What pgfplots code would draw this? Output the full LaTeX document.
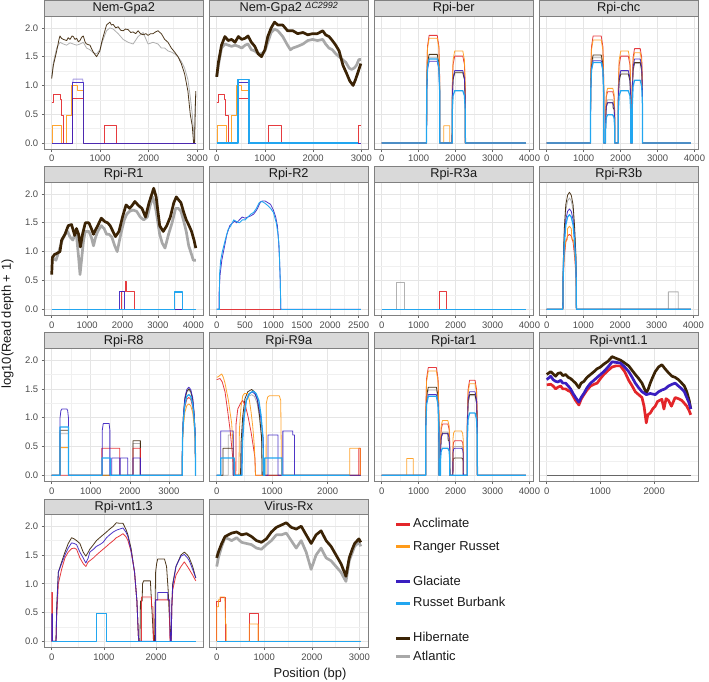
\documentclass[border=0pt]{standalone}
\usepackage{pgfplots}
\pgfplotsset{compat=1.18}
\usepackage{fontspec}
\setmainfont{Liberation Sans}
\definecolor{cAcc}{HTML}{E3262A}
\definecolor{cRR}{HTML}{FF9B1A}
\definecolor{cGla}{HTML}{3A1FC0}
\definecolor{cRB}{HTML}{22A6F0}
\definecolor{cHib}{HTML}{3B2305}
\definecolor{cAtl}{HTML}{A8A8A8}
\pgfplotsset{
  facet/.style={
    scale only axis, width=158.5bp, height=133bp, anchor=south west,
    ymin=-0.105, ymax=2.205,
    ytick={0,0.5,1,1.5,2}, minor y tick num=1, minor x tick num=1,
    grid=both,
    major grid style={draw=black!10, line width=0.6bp},
    minor grid style={draw=black!6, line width=0.4bp},
    axis line style={draw=black!50, line width=0.6bp},
    tick align=outside, tick pos=left,
    major tick length=2.75bp, minor tick length=0bp,
    every tick/.style={draw=black!60, line width=0.6bp},
    ticklabel style={font=\fontsize{9.5}{10}\selectfont, text=black!70},
    /pgf/number format/assume math mode=true,
    scaled x ticks=false, scaled y ticks=false,
    xticklabel style={/pgf/number format/fixed, /pgf/number format/1000 sep={}},
    yticklabel style={/pgf/number format/fixed, /pgf/number format/fixed zerofill, /pgf/number format/precision=1},
    every axis title/.style={at={(0.5,1)}, anchor=south, inner sep=0pt, outer sep=0pt,
      minimum width=158.5bp, minimum height=15.5bp, text height=9.3bp, text depth=2.2bp,
      fill=black!15, draw=black!50, line width=0.6bp, font=\fontsize{12.8}{13}\selectfont, text=black!90},
  },
  nolab/.style={yticklabels={}, ytick style={draw=none}},
  acc/.style={draw=cAcc, line width=0.8bp, draw opacity=0.9, line join=round},
  rr/.style={draw=cRR, line width=0.8bp, draw opacity=0.9, line join=round},
  gla/.style={draw=cGla, line width=0.8bp, draw opacity=0.9, line join=round},
  rb/.style={draw=cRB, line width=1.25bp, draw opacity=1, line join=round},
  hib/.style={draw=cHib, line width=0.8bp, draw opacity=0.9, line join=round},
  atl/.style={draw=cAtl, line width=0.8bp, draw opacity=0.9, line join=round},
  fat/.style={line width=2.7bp, draw opacity=1},
}
\begin{document}
\begin{tikzpicture}
\path[use as bounding box] (0,0) rectangle (709bp,682bp);

% ---------------- Row 1 ----------------
\begin{axis}[facet, at={(44.5bp,532.9bp)}, xmin=-148.5, xmax=3118.5, xtick={0,1000,2000,3000}, title={Nem-Gpa2}]
\addplot[atl] coordinates {(0,1.15)(34,1.4)(103,1.65)(171,1.75)(240,1.72)(308,1.7)(377,1.74)(445,1.72)(514,1.7)(582,1.72)(651,1.75)(719,1.65)(788,1.62)(856,1.57)(925,1.55)(993,1.62)(1062,1.8)(1130,1.95)(1199,2.0)(1267,1.98)(1370,1.9)(1473,1.8)(1575,1.75)(1678,1.72)(1781,1.85)(1884,1.92)(1986,1.72)(2089,1.75)(2192,1.72)(2260,1.65)(2329,1.65)(2397,1.6)(2466,1.58)(2534,1.55)(2603,1.5)(2671,1.42)(2740,1.3)(2808,1.1)(2856,0.8)(2897,0.5)(2925,0.2)(2945,0.05)(2959,0.7)(2970,0.85)};
\addplot[hib] coordinates {(0,1.12)(34,1.35)(103,1.6)(150,1.8)(171,1.86)(200,1.82)(240,1.8)(308,1.78)(340,1.83)(377,1.8)(420,1.86)(445,1.85)(480,1.8)(514,1.82)(550,1.76)(582,1.78)(620,1.84)(651,1.86)(690,1.75)(719,1.72)(788,1.7)(856,1.58)(925,1.5)(960,1.55)(993,1.6)(1030,1.75)(1062,1.85)(1130,2.05)(1199,2.1)(1230,2.05)(1267,2.06)(1320,2.0)(1370,2.02)(1420,1.96)(1473,1.95)(1520,1.98)(1575,1.97)(1630,1.92)(1678,1.93)(1730,1.9)(1781,1.95)(1830,1.9)(1884,1.88)(1940,1.9)(1986,1.87)(2040,1.9)(2089,1.9)(2140,1.93)(2192,1.95)(2230,1.92)(2260,1.9)(2329,1.8)(2397,1.75)(2466,1.65)(2534,1.58)(2603,1.5)(2671,1.38)(2740,1.2)(2808,0.9)(2856,0.5)(2897,0.3)(2925,0)(2945,0)(2959,0.6)(2970,0.9)};
\addplot[acc] coordinates {(0,0.7)(45,0.7)(45,0.85)(170,0.85)(170,0.75)(190,0.75)(190,0.48)(240,0.48)(240,0)(425,0)(425,0.78)(651,0.78)(651,0)(1082,0)(1082,0.3)(1336,0.3)(1336,0)(2970,0)};
\addplot[rr] coordinates {(0,0)(20,0)(20,0.3)(205,0.3)(205,0)(300,0)(300,0.48)(410,0.48)(410,1.0)(520,1.0)(520,0.91)(651,0.91)(651,0)(2970,0)};
\addplot[gla] coordinates {(0,0)(425,0)(425,1.05)(651,1.05)(651,0)(2970,0)};
\addplot[gla, draw opacity=0.45] coordinates {(435,1.05)(440,1.11)(640,1.11)(645,1.05)};
\end{axis}

\begin{axis}[facet, nolab, at={(209.5bp,532.9bp)}, xmin=-149.5, xmax=3139.5, xtick={0,1000,2000,3000},
  title={Nem-Gpa2\ \raisebox{0.45ex}{\fontsize{9}{9}\selectfont\itshape ΔC2992}}]
\addplot[atl, fat] coordinates {(0,1.15)(35,1.35)(100,1.65)(170,1.72)(240,1.7)(310,1.68)(380,1.7)(450,1.68)(520,1.65)(590,1.7)(650,1.72)(720,1.62)(790,1.6)(860,1.55)(930,1.55)(1000,1.6)(1060,1.75)(1130,1.92)(1200,1.98)(1270,1.95)(1370,1.85)(1470,1.7)(1530,1.62)(1580,1.65)(1680,1.68)(1790,1.72)(1890,1.78)(1990,1.8)(2090,1.78)(2200,1.8)(2260,1.72)(2330,1.65)(2400,1.62)(2470,1.55)(2540,1.5)(2610,1.45)(2680,1.4)(2750,1.3)(2800,1.28)(2850,1.3)(2900,1.35)(2950,1.45)(2990,1.45)};
\addplot[hib, fat] coordinates {(0,1.15)(35,1.4)(100,1.7)(170,1.85)(240,1.78)(310,1.8)(380,1.75)(450,1.85)(520,1.8)(590,1.82)(650,1.86)(720,1.75)(790,1.68)(860,1.55)(930,1.5)(1000,1.62)(1060,1.85)(1130,2.0)(1200,2.1)(1270,2.05)(1370,2.05)(1470,1.95)(1580,1.95)(1680,1.9)(1790,1.92)(1890,1.88)(1990,1.9)(2090,1.9)(2200,1.95)(2260,1.88)(2330,1.85)(2400,1.78)(2470,1.7)(2540,1.6)(2620,1.35)(2700,1.2)(2760,1.08)(2830,1.0)(2880,1.1)(2940,1.25)(2990,1.38)};
\addplot[acc] coordinates {(0,0.7)(45,0.7)(45,0.85)(170,0.85)(170,0.75)(190,0.75)(190,0.48)(240,0.48)(240,0)(425,0)(425,0.78)(651,0.78)(651,0)(1082,0)(1082,0.3)(1336,0.3)(1336,0)(2940,0)(2940,0.3)(2990,0.3)};
\addplot[rr] coordinates {(0,0)(20,0)(20,0.3)(205,0.3)(205,0)(300,0)(300,0.48)(410,0.48)(410,1.0)(520,1.0)(520,0.91)(651,0.91)(651,0)(2990,0)};
\addplot[gla] coordinates {(0,0)(425,0)(425,1.05)(655,1.05)(655,0)(2990,0)};
\addplot[rb] coordinates {(0,0)(440,0)(440,1.1)(670,1.1)(670,0)(2940,0)};
\end{axis}

\begin{axis}[facet, nolab, at={(374.5bp,532.9bp)}, xmin=-195, xmax=4095, xtick={0,1000,2000,3000,4000}, title={Rpi-ber}]
\addplot[atl] coordinates {(0,0)(1214,0)(1217,0.89)(1239,1.33)(1284,1.48)(1503,1.48)(1548,1.33)(1570,0.89)(1573,0)(1906,0)(1909,0.74)(1931,1.12)(1976,1.24)(2195,1.24)(2240,1.12)(2262,0.74)(2265,0)(3900,0)};
\addplot[hib] coordinates {(0,0)(1214,0)(1217,0.92)(1239,1.39)(1284,1.54)(1503,1.54)(1548,1.39)(1570,0.92)(1573,0)(1906,0)(1909,0.73)(1931,1.10)(1976,1.22)(2195,1.22)(2240,1.10)(2262,0.73)(2265,0)(3900,0)};
\addplot[acc] coordinates {(0,0)(1214,0)(1217,1.12)(1239,1.68)(1284,1.87)(1503,1.87)(1548,1.68)(1570,1.12)(1573,0)(1906,0)(1909,0.91)(1931,1.36)(1976,1.51)(2195,1.51)(2240,1.36)(2262,0.91)(2265,0)(3900,0)};
\addplot[rr] coordinates {(0,0)(1214,0)(1217,1.09)(1239,1.64)(1284,1.82)(1503,1.82)(1548,1.64)(1570,1.09)(1573,0)(1681,0)(1681,0.30)(1843,0.30)(1843,0)(1906,0)(1909,0.96)(1931,1.44)(1976,1.60)(2195,1.60)(2240,1.44)(2262,0.96)(2265,0)(3900,0)};
\addplot[gla] coordinates {(0,0)(1214,0)(1217,0.85)(1239,1.28)(1284,1.42)(1503,1.42)(1548,1.28)(1570,0.85)(1573,0)(1906,0)(1909,0.76)(1931,1.13)(1976,1.26)(2195,1.26)(2240,1.13)(2262,0.76)(2265,0)(3900,0)};
\addplot[rb] coordinates {(0,0)(1214,0)(1217,0.88)(1239,1.31)(1284,1.46)(1503,1.46)(1548,1.31)(1570,0.88)(1573,0)(1906,0)(1909,0.55)(1931,0.82)(1976,0.91)(2195,0.91)(2240,0.82)(2262,0.55)(2265,0)(3900,0)};
\end{axis}

\begin{axis}[facet, nolab, at={(539.5bp,532.9bp)}, xmin=-195, xmax=4095, xtick={0,1000,2000,3000,4000}, title={Rpi-chc}]
\addplot[atl] coordinates {(0,0)(1186,0)(1189,0.89)(1211,1.33)(1256,1.48)(1476,1.48)(1521,1.33)(1543,0.89)(1546,0)(1592,0)(1595,0.45)(1612,0.68)(1647,0.75)(1788,0.75)(1823,0.68)(1840,0.45)(1843,0)(1935,0)(1938,0.74)(1960,1.12)(2005,1.24)(2208,1.24)(2253,1.12)(2275,0.74)(2278,0)(2314,0)(2317,0.83)(2337,1.24)(2377,1.38)(2532,1.38)(2572,1.24)(2592,0.83)(2595,0)(3900,0)};
\addplot[hib] coordinates {(0,0)(1186,0)(1189,0.92)(1211,1.38)(1256,1.53)(1476,1.53)(1521,1.38)(1543,0.92)(1546,0)(1592,0)(1595,0.42)(1612,0.63)(1647,0.70)(1788,0.70)(1800,0.6)(1823,0.6)(1840,0.42)(1843,0)(1935,0)(1938,0.72)(1960,1.08)(2005,1.20)(2208,1.20)(2253,1.08)(2275,0.72)(2278,0)(2314,0)(2317,0.84)(2337,1.26)(2377,1.40)(2532,1.40)(2572,1.26)(2592,0.84)(2595,0)(3900,0)};
\addplot[acc] coordinates {(0,0)(1186,0)(1189,1.12)(1211,1.67)(1256,1.86)(1476,1.86)(1521,1.67)(1543,1.12)(1546,0)(1592,0)(1595,0.53)(1612,0.80)(1647,0.89)(1788,0.89)(1823,0.80)(1840,0.53)(1843,0)(1935,0)(1938,0.91)(1960,1.36)(2005,1.51)(2208,1.51)(2253,1.36)(2275,0.91)(2278,0)(2314,0)(2317,0.98)(2337,1.48)(2377,1.64)(2532,1.64)(2572,1.48)(2592,0.98)(2595,0)(3900,0)};
\addplot[rr] coordinates {(0,0)(1186,0)(1189,1.07)(1211,1.61)(1256,1.79)(1476,1.79)(1521,1.61)(1543,1.07)(1546,0)(1592,0)(1595,0.57)(1612,0.86)(1647,0.95)(1788,0.95)(1823,0.86)(1840,0.57)(1843,0)(1935,0)(1938,0.96)(1960,1.44)(2005,1.60)(2208,1.60)(2253,1.44)(2275,0.96)(2278,0)(2314,0)(2317,0.94)(2337,1.41)(2377,1.57)(2532,1.57)(2572,1.41)(2592,0.94)(2595,0)(3900,0)};
\addplot[gla] coordinates {(0,0)(1186,0)(1189,0.86)(1211,1.29)(1256,1.43)(1476,1.43)(1521,1.29)(1543,0.86)(1546,0)(1592,0)(1595,0.42)(1612,0.63)(1647,0.70)(1788,0.70)(1823,0.63)(1840,0.42)(1843,0)(1935,0)(1938,0.76)(1960,1.13)(2005,1.26)(2208,1.26)(2253,1.13)(2275,0.76)(2278,0)(2314,0)(2317,0.88)(2337,1.31)(2377,1.46)(2532,1.46)(2572,1.31)(2592,0.88)(2595,0)(3900,0)};
\addplot[rb] coordinates {(0,0)(1186,0)(1189,0.84)(1211,1.26)(1256,1.40)(1476,1.40)(1521,1.26)(1543,0.84)(1546,0)(1592,0)(1595,0.29)(1612,0.44)(1647,0.49)(1788,0.49)(1823,0.44)(1840,0.29)(1843,0)(1935,0)(1938,0.55)(1960,0.82)(2005,0.91)(2208,0.91)(2253,0.82)(2275,0.55)(2278,0)(2314,0)(2317,0.65)(2337,0.98)(2377,1.09)(2532,1.09)(2572,0.98)(2592,0.65)(2595,0)(3900,0)};
\end{axis}

% ---------------- Row 2 ----------------
\begin{axis}[facet, at={(44.5bp,366.8bp)}, xmin=-203.5, xmax=4273.5, xtick={0,1000,2000,3000,4000}, title={Rpi-R1}]
\addplot[atl, fat] coordinates {(0,0.85)(60,0.88)(120,0.85)(200,1.0)(300,1.2)(380,1.3)(450,1.35)(520,1.25)(600,1.2)(650,1.3)(700,1.28)(760,0.9)(800,0.6)(850,0.9)(900,1.2)(950,1.35)(1050,1.35)(1120,1.25)(1180,1.1)(1240,1.25)(1300,1.35)(1400,1.45)(1480,1.4)(1550,1.3)(1620,1.3)(1700,1.25)(1780,1.1)(1850,1.0)(1950,1.3)(2050,1.55)(2120,1.65)(2200,1.7)(2300,1.72)(2400,1.7)(2500,1.6)(2600,1.55)(2700,1.6)(2780,1.8)(2850,1.95)(2900,1.85)(2950,1.7)(3050,1.3)(3120,1.15)(3200,1.06)(3300,1.3)(3400,1.5)(3500,1.75)(3580,1.75)(3650,1.7)(3720,1.55)(3800,1.35)(3870,1.1)(3950,0.95)(4000,0.85)(4070,0.85)};
\addplot[hib, fat] coordinates {(0,0.6)(20,0.9)(80,0.95)(150,0.97)(234,1.0)(280,1.2)(374,1.3)(467,1.45)(560,1.47)(650,1.28)(700,1.4)(760,1.3)(810,1.08)(870,1.3)(950,1.5)(1050,1.5)(1120,1.4)(1180,1.3)(1240,1.38)(1300,1.45)(1400,1.58)(1500,1.52)(1580,1.5)(1650,1.45)(1730,1.35)(1800,1.26)(1900,1.35)(2000,1.6)(2100,1.81)(2200,1.75)(2270,1.8)(2350,1.87)(2450,1.8)(2550,1.75)(2650,1.6)(2750,1.85)(2830,2.0)(2880,2.1)(2950,1.95)(3000,1.7)(3050,1.45)(3150,1.35)(3250,1.45)(3350,1.6)(3450,1.85)(3520,1.95)(3580,1.9)(3650,1.85)(3720,1.7)(3800,1.55)(3880,1.45)(3950,1.35)(4020,1.2)(4070,1.06)};
\addplot[acc] coordinates {(0,0)(1960,0)(1960,0.3)(2090,0.3)(2090,0.48)(2110,0.48)(2110,0.3)(2340,0.3)(2340,0)(4070,0)};
\addplot[gla] coordinates {(0,0)(1920,0)(1920,0.3)(2060,0.3)(2060,0)(4070,0)};
\addplot[rb] coordinates {(0,0)(3460,0)(3460,0.3)(3700,0.3)(3700,0)(4070,0)};
\end{axis}

\begin{axis}[facet, nolab, at={(209.5bp,366.8bp)}, xmin=-127, xmax=2667, xtick={0,500,1000,1500,2000,2500}, title={Rpi-R2}]
\addplot[acc] coordinates {(0,0)(2540,0)};
\addplot[gla] coordinates {(0,0)(40,0)(40,0.25)(60,0.6)(90,0.85)(120,1.0)(180,1.3)(230,1.45)(280,1.5)(320,1.53)(350,1.5)(400,1.55)(450,1.6)(500,1.58)(550,1.6)(600,1.62)(650,1.65)(690,1.7)(720,1.75)(750,1.82)(780,1.87)(820,1.88)(850,1.88)(900,1.85)(950,1.82)(1000,1.72)(1040,1.6)(1070,1.45)(1090,1.2)(1110,0.8)(1120,0.5)(1130,0)(2540,0)};
\addplot[rb, line width=0.9bp] coordinates {(0,0)(50,0)(50,0.6)(70,0.85)(100,1.0)(150,1.2)(200,1.38)(250,1.45)(300,1.55)(350,1.52)(400,1.5)(450,1.55)(500,1.55)(550,1.6)(600,1.65)(650,1.68)(700,1.75)(750,1.85)(800,1.87)(850,1.84)(900,1.8)(950,1.75)(1000,1.68)(1050,1.5)(1080,1.3)(1100,1.1)(1120,0.5)(1130,0)};
\addplot[rb] coordinates {(1130,0)(2540,0)};
\addplot[rb] coordinates {(0,0)(50,0)};
\end{axis}

\begin{axis}[facet, nolab, at={(374.5bp,366.8bp)}, xmin=-195, xmax=4095, xtick={0,1000,2000,3000,4000}, title={Rpi-R3a}]
\addplot[atl] coordinates {(0,0)(404,0)(404,0.47)(601,0.47)(601,0)(3900,0)};
\addplot[acc] coordinates {(0,0)(1552,0)(1552,0.30)(1749,0.30)(1749,0)(3900,0)};
\addplot[rb] coordinates {(0,0)(3900,0)};
\end{axis}

\begin{axis}[facet, nolab, at={(539.5bp,366.8bp)}, xmin=-196.5, xmax=4126.5, xtick={0,1000,2000,3000,4000}, title={Rpi-R3b}]
\addplot[atl] coordinates {(0,0)(440,0)(450,0.75)(480,1.33)(520,1.72)(570,1.88)(620,1.93)(670,1.88)(720,1.72)(760,1.37)(800,0.85)(810,0)(3318,0)(3318,0.3)(3590,0.3)(3590,0)(3930,0)};
\addplot[hib] coordinates {(0,0)(440,0)(450,0.79)(480,1.40)(520,1.81)(570,1.98)(620,2.03)(670,1.98)(720,1.81)(760,1.44)(800,0.89)(810,0)(3930,0)};
\addplot[acc] coordinates {(0,0)(440,0)(450,0.51)(480,0.90)(520,1.16)(570,1.27)(620,1.30)(670,1.27)(720,1.16)(760,0.92)(800,0.57)(810,0)(3930,0)};
\addplot[rr] coordinates {(0,0)(440,0)(450,0.56)(480,0.99)(520,1.20)(560,1.20)(570,1.40)(620,1.44)(670,1.40)(690,1.20)(730,1.20)(760,1.02)(800,0.63)(810,0)(3930,0)};
\addplot[gla] coordinates {(0,0)(440,0)(450,0.68)(480,1.20)(520,1.55)(570,1.70)(620,1.74)(670,1.70)(720,1.55)(760,1.24)(800,0.77)(810,0)(3930,0)};
\addplot[rb] coordinates {(0,0)(440,0)(450,0.64)(480,1.13)(520,1.46)(570,1.60)(620,1.64)(670,1.60)(720,1.46)(760,1.16)(800,0.72)(810,0)(3930,0)};
\end{axis}

% ---------------- Row 3 ----------------
\begin{axis}[facet, at={(44.5bp,200.7bp)}, xmin=-184.5, xmax=3874.5, xtick={0,1000,2000,3000}, title={Rpi-R8}]
\addplot[atl] coordinates {(0,0)(214,0)(214,0.72)(428,0.72)(428,0)(2083,0)(2083,0.55)(2271,0.55)(2271,0)(3342,0)(3350,0.67)(3375,1.04)(3410,1.30)(3460,1.44)(3510,1.48)(3560,1.44)(3610,1.30)(3645,1.07)(3675,0.70)(3685,0)(3690,0)};
\addplot[hib] coordinates {(0,0)(214,0)(214,0.78)(428,0.78)(428,0)(2083,0)(2083,0.60)(2271,0.60)(2271,0)(3342,0)(3350,0.68)(3375,1.05)(3410,1.32)(3460,1.46)(3510,1.50)(3560,1.46)(3610,1.32)(3645,1.08)(3675,0.71)(3685,0)(3690,0)};
\addplot[acc] coordinates {(0,0)(1285,0)(1285,0.47)(1740,0.47)(1740,0)(2083,0)(2083,0.47)(2271,0.47)(2271,0)(3342,0)(3350,0.61)(3375,0.95)(3410,1.19)(3460,1.32)(3510,1.35)(3560,1.32)(3610,1.19)(3645,0.97)(3675,0.63)(3685,0)(3690,0)};
\addplot[rr] coordinates {(0,0)(214,0)(214,0.48)(428,0.48)(428,0)(3342,0)(3350,0.56)(3375,0.87)(3410,1.09)(3460,1.21)(3510,1.24)(3560,1.21)(3610,1.09)(3645,0.89)(3675,0.58)(3685,0)(3690,0)};
\addplot[gla] coordinates {(0,0)(214,0)(214,1.0)(235,1.12)(260,1.15)(390,1.15)(410,1.12)(428,1.0)(428,0)(1295,0)(1295,0.78)(1320,0.9)(1470,0.9)(1490,0.78)(1490,0)(1540,0)(1540,0.3)(1740,0.3)(1740,0)(1757,0)(1757,0.3)(1945,0.3)(1945,0)(2083,0)(2083,0.3)(2271,0.3)(2271,0)(3342,0)(3350,0.69)(3375,1.07)(3410,1.35)(3460,1.49)(3510,1.53)(3560,1.49)(3610,1.35)(3645,1.10)(3675,0.72)(3685,0)(3690,0)};
\addplot[rb] coordinates {(0,0)(214,0)(214,0.84)(428,0.84)(428,0)(1285,0)(1285,0.3)(1500,0.3)(1500,0)(3342,0)(3350,0.63)(3375,0.98)(3410,1.23)(3460,1.37)(3510,1.40)(3560,1.37)(3610,1.23)(3645,1.01)(3675,0.66)(3685,0)(3690,0)};
\end{axis}

\begin{axis}[facet, nolab, at={(209.5bp,200.7bp)}, xmin=-130, xmax=2730, xtick={0,1000,2000}, title={Rpi-R9a}]
\addplot[atl] coordinates {(0,0)(210,0)(210,0.7)(300,0.7)(300,0)(440,0)(450,0.55)(480,0.97)(520,1.25)(570,1.37)(630,1.40)(680,1.37)(730,1.25)(770,1.0)(810,0.62)(820,0)(2600,0)};
\addplot[hib] coordinates {(0,0)(115,0)(115,0.47)(300,0.47)(300,0)(430,0)(440,0.58)(470,1.03)(510,1.33)(560,1.45)(630,1.49)(680,1.45)(730,1.33)(770,1.06)(810,0.66)(820,0)(2600,0)};
\addplot[acc] coordinates {(0,1.66)(60,1.68)(100,1.62)(150,1.45)(200,1.1)(240,0.8)(270,0.5)(290,0.3)(300,0)(345,0)(350,0.9)(380,1.15)(430,1.25)(470,1.3)(520,1.2)(570,1.0)(620,0.75)(660,0.5)(690,0.3)(700,0)(2565,0)(2565,0.47)(2595,0.47)(2595,0)(2600,0)};
\addplot[rr] coordinates {(0,1.70)(40,1.72)(90,1.76)(120,1.70)(150,1.6)(180,1.45)(210,1.31)(240,1.1)(270,0.9)(290,0.6)(300,0.45)(310,0)(400,0)(410,0.8)(440,1.2)(470,1.38)(500,1.42)(560,1.42)(590,1.3)(620,1.1)(650,0.85)(680,0.5)(700,0)(890,0)(895,1.25)(920,1.36)(950,1.38)(1130,1.38)(1155,1.3)(1170,0)(2400,0)(2400,0.47)(2590,0.47)(2590,0)(2600,0)};
\addplot[gla] coordinates {(0,0)(72,0)(72,0.77)(300,0.77)(300,0)(450,0)(460,0.56)(490,1.0)(530,1.29)(580,1.41)(640,1.45)(690,1.41)(740,1.29)(790,1.03)(840,0.64)(850,0)(925,0)(925,0.70)(1105,0.70)(1105,0)(1194,0)(1194,0.77)(1373,0.77)(1373,0.70)(1403,0.70)(1403,0)(2600,0)};
\addplot[rb] coordinates {(0,0)(72,0)(72,0.30)(316,0.30)(316,0)(455,0)(465,0.57)(495,1.01)(535,1.30)(590,1.42)(660,1.46)(710,1.42)(760,1.30)(800,1.04)(835,0.64)(845,0)(866,0)(866,0.30)(1176,0.30)(1176,0)(2400,0)};
\end{axis}

\begin{axis}[facet, nolab, at={(374.5bp,200.7bp)}, xmin=-195, xmax=4095, xtick={0,1000,2000,3000,4000}, title={Rpi-tar1}]
\addplot[atl] coordinates {(0,0)(1190,0)(1193,0.89)(1215,1.33)(1260,1.48)(1480,1.48)(1525,1.33)(1547,0.89)(1550,0)(1590,0)(1593,0.45)(1610,0.68)(1645,0.75)(1790,0.75)(1825,0.68)(1842,0.45)(1845,0)(1925,0)(1928,0.40)(1945,0.48)(1975,0.50)(2160,0.50)(2190,0.48)(2207,0.40)(2210,0)(2315,0)(2318,0.83)(2338,1.24)(2378,1.38)(2527,1.38)(2567,1.24)(2587,0.83)(2590,0)(3900,0)};
\addplot[hib] coordinates {(0,0)(1190,0)(1193,0.92)(1215,1.38)(1260,1.53)(1480,1.53)(1525,1.38)(1547,0.92)(1550,0)(1590,0)(1593,0.44)(1610,0.66)(1645,0.73)(1790,0.73)(1800,0.6)(1825,0.6)(1842,0.44)(1845,0)(1925,0)(1928,0.24)(1945,0.29)(1975,0.30)(2160,0.30)(2190,0.29)(2207,0.24)(2210,0)(2315,0)(2318,0.84)(2338,1.26)(2378,1.40)(2527,1.40)(2567,1.26)(2587,0.84)(2590,0)(3900,0)};
\addplot[acc] coordinates {(0,0)(1190,0)(1193,1.12)(1215,1.68)(1260,1.87)(1480,1.87)(1525,1.68)(1547,1.12)(1550,0)(1590,0)(1593,0.53)(1610,0.80)(1645,0.89)(1790,0.89)(1825,0.80)(1842,0.53)(1845,0)(1925,0)(1928,0.48)(1945,0.57)(1975,0.60)(2160,0.60)(2190,0.57)(2207,0.48)(2210,0)(2315,0)(2318,0.99)(2338,1.49)(2378,1.65)(2527,1.65)(2567,1.49)(2587,0.99)(2590,0)(3900,0)};
\addplot[rr] coordinates {(0,0)(676,0)(676,0.29)(856,0.29)(856,0)(1190,0)(1193,1.09)(1215,1.63)(1260,1.81)(1480,1.81)(1525,1.63)(1547,1.09)(1550,0)(1590,0)(1593,0.57)(1610,0.86)(1645,0.95)(1790,0.95)(1825,0.86)(1842,0.57)(1845,0)(1925,0)(1928,0.62)(1945,0.73)(1975,0.77)(2160,0.77)(2190,0.73)(2207,0.62)(2210,0)(2315,0)(2318,0.95)(2338,1.43)(2378,1.59)(2527,1.59)(2567,1.43)(2587,0.95)(2590,0)(3900,0)};
\addplot[gla] coordinates {(0,0)(1190,0)(1193,0.84)(1215,1.26)(1260,1.40)(1480,1.40)(1525,1.26)(1547,0.84)(1550,0)(1590,0)(1593,0.43)(1610,0.65)(1645,0.72)(1790,0.72)(1825,0.65)(1842,0.43)(1845,0)(1925,0)(1928,0.38)(1945,0.45)(1975,0.47)(2160,0.47)(2190,0.45)(2207,0.38)(2210,0)(2315,0)(2318,0.87)(2338,1.31)(2378,1.45)(2527,1.45)(2567,1.31)(2587,0.87)(2590,0)(3900,0)};
\addplot[rb] coordinates {(0,0)(1190,0)(1193,0.82)(1215,1.23)(1260,1.37)(1480,1.37)(1525,1.23)(1547,0.82)(1550,0)(1590,0)(1593,0.28)(1610,0.42)(1645,0.47)(1790,0.47)(1825,0.42)(1842,0.28)(1845,0)(1925,0)(2210,0)(2315,0)(2318,0.65)(2338,0.97)(2378,1.08)(2527,1.08)(2567,0.97)(2587,0.65)(2590,0)(3900,0)};
\end{axis}

\begin{axis}[facet, nolab, at={(539.5bp,200.7bp)}, xmin=-134, xmax=2814, xtick={0,1000,2000}, title={Rpi-vnt1.1}]
\addplot[draw=black!60, line width=0.75bp] coordinates {(0,0)(2680,0)};
\addplot[hib, fat] coordinates {(0,1.75)(74,1.80)(120,1.76)(167,1.72)(210,1.77)(260,1.78)(300,1.73)(352,1.75)(400,1.7)(444,1.68)(490,1.64)(537,1.6)(599,1.52)(640,1.6)(691,1.63)(750,1.7)(815,1.75)(880,1.8)(938,1.85)(1000,1.88)(1062,1.93)(1140,1.98)(1216,2.06)(1290,2.03)(1370,2.0)(1450,1.95)(1525,1.9)(1590,1.82)(1648,1.75)(1710,1.68)(1772,1.6)(1852,1.43)(1890,1.5)(1926,1.6)(1970,1.7)(2019,1.8)(2080,1.88)(2142,1.92)(2200,1.85)(2265,1.78)(2330,1.72)(2389,1.7)(2450,1.66)(2512,1.6)(2560,1.55)(2605,1.45)(2650,1.3)(2679,1.15)};
\addplot[acc, fat] coordinates {(0,1.57)(74,1.58)(120,1.55)(167,1.5)(210,1.53)(260,1.55)(300,1.5)(352,1.5)(400,1.47)(444,1.45)(490,1.38)(537,1.3)(599,1.22)(640,1.32)(691,1.4)(750,1.48)(815,1.55)(880,1.58)(938,1.6)(1000,1.68)(1062,1.75)(1140,1.82)(1216,1.88)(1290,1.9)(1370,1.9)(1450,1.8)(1525,1.65)(1590,1.55)(1648,1.45)(1710,1.4)(1772,1.35)(1810,1.2)(1852,0.91)(1880,1.05)(1926,1.08)(1970,1.15)(2019,1.2)(2060,1.28)(2100,1.3)(2142,1.32)(2180,1.15)(2220,1.33)(2265,1.3)(2320,1.2)(2389,1.35)(2450,1.33)(2512,1.3)(2560,1.25)(2605,1.2)(2650,1.12)(2679,1.05)};
\addplot[gla, fat] coordinates {(0,1.66)(74,1.72)(120,1.66)(167,1.63)(210,1.62)(260,1.65)(300,1.6)(352,1.6)(400,1.55)(444,1.5)(490,1.42)(537,1.35)(599,1.27)(640,1.35)(691,1.42)(750,1.52)(815,1.6)(880,1.65)(938,1.7)(1000,1.75)(1062,1.8)(1140,1.88)(1216,1.97)(1290,1.96)(1370,1.95)(1450,1.88)(1525,1.8)(1590,1.7)(1648,1.6)(1710,1.52)(1772,1.45)(1852,1.4)(1926,1.42)(2019,1.4)(2080,1.45)(2142,1.48)(2200,1.5)(2265,1.55)(2330,1.58)(2389,1.6)(2450,1.55)(2512,1.5)(2560,1.45)(2605,1.35)(2650,1.25)(2679,1.15)};
\end{axis}

% ---------------- Row 4 ----------------
\begin{axis}[facet, at={(44.5bp,34.6bp)}, xmin=-138, xmax=2898, xtick={0,1000,2000}, title={Rpi-vnt1.3}]
\addplot[hib] coordinates {(0,0)(83,0)(95,0.6)(127,1.2)(190,1.38)(254,1.55)(317,1.7)(381,1.8)(430,1.78)(476,1.75)(540,1.7)(603,1.55)(654,1.48)(700,1.55)(730,1.6)(800,1.68)(857,1.75)(920,1.8)(984,1.85)(1050,1.9)(1111,1.95)(1180,2.0)(1238,2.06)(1300,2.05)(1365,2.05)(1420,1.95)(1460,1.85)(1524,1.6)(1587,1.2)(1632,0.7)(1660,0.1)(1670,0)(1690,0)(1700,0.7)(1733,0.7)(1740,1.0)(1760,1.05)(1890,1.05)(1905,0.8)(1940,0.2)(1950,0)(1970,0)(1990,1.2)(2010,1.35)(2030,1.43)(2160,1.43)(2200,1.3)(2230,0.9)(2260,0.3)(2286,0)(2300,0.6)(2317,1.0)(2380,1.3)(2476,1.5)(2540,1.55)(2600,1.5)(2635,1.45)(2700,1.3)(2730,1.2)(2760,1.1)};
\addplot[acc] coordinates {(0,0)(0,0.85)(15,0.85)(15,0)(83,0)(95,0.4)(127,1.0)(190,1.25)(254,1.45)(317,1.55)(381,1.61)(430,1.62)(476,1.6)(540,1.45)(603,1.35)(654,1.30)(700,1.38)(730,1.4)(800,1.45)(857,1.5)(920,1.55)(984,1.6)(1050,1.65)(1111,1.7)(1180,1.75)(1238,1.8)(1300,1.83)(1365,1.87)(1420,1.82)(1460,1.75)(1524,1.55)(1587,1.2)(1632,0.7)(1660,0.1)(1670,0)(1720,0)(1720,0.77)(1910,0.77)(1910,0.6)(1940,0.6)(1950,0)(1990,0)(1990,0.72)(2250,0.72)(2265,0)(2290,0)(2300,0.6)(2320,0.9)(2380,1.15)(2476,1.3)(2540,1.38)(2600,1.3)(2635,1.25)(2700,1.15)(2760,1.05)};
\addplot[gla] coordinates {(0,0)(0,0.48)(15,0.48)(15,0)(83,0)(95,0.5)(127,1.2)(190,1.35)(254,1.5)(317,1.62)(381,1.71)(430,1.7)(476,1.68)(540,1.55)(603,1.45)(654,1.36)(700,1.45)(730,1.55)(800,1.6)(857,1.65)(920,1.68)(984,1.72)(1050,1.8)(1111,1.85)(1180,1.9)(1238,1.93)(1300,1.95)(1365,1.97)(1420,1.9)(1460,1.82)(1524,1.55)(1587,1.2)(1632,0.7)(1660,0.1)(1670,0)(1990,0)(1990,0.72)(2032,0.72)(2032,0.85)(2222,0.85)(2222,0.72)(2260,0.72)(2270,0)(2290,0)(2300,0.6)(2317,0.95)(2380,1.3)(2476,1.48)(2540,1.51)(2600,1.45)(2635,1.4)(2700,1.25)(2760,1.1)};
\addplot[rb] coordinates {(0,0)(857,0)(857,0.48)(1048,0.48)(1048,0)(2760,0)};
\end{axis}

\begin{axis}[facet, nolab, at={(209.5bp,34.6bp)}, xmin=-151.5, xmax=3181.5, xtick={0,1000,2000,3000}, title={Virus-Rx}]
\addplot[atl, fat] coordinates {(0,1.3)(35,1.45)(105,1.65)(175,1.8)(244,1.78)(314,1.75)(418,1.8)(523,1.72)(627,1.7)(732,1.68)(836,1.62)(941,1.6)(1045,1.68)(1150,1.75)(1254,1.85)(1359,1.85)(1463,1.88)(1568,1.75)(1672,1.62)(1777,1.75)(1881,1.55)(1986,1.25)(2090,1.5)(2195,1.62)(2300,1.45)(2404,1.4)(2509,1.3)(2613,1.2)(2718,1.04)(2787,1.4)(2900,1.65)(2990,1.72)(3030,1.65)};
\addplot[hib, fat] coordinates {(0,1.45)(35,1.55)(105,1.7)(175,1.82)(244,1.85)(314,1.88)(418,1.9)(523,1.85)(627,1.87)(732,1.82)(836,1.75)(941,1.72)(1045,1.78)(1150,1.9)(1254,1.98)(1359,2.02)(1463,2.06)(1568,1.98)(1672,1.95)(1777,2.0)(1881,1.85)(1986,1.7)(2090,1.85)(2195,1.92)(2300,1.75)(2404,1.65)(2509,1.5)(2613,1.35)(2718,1.13)(2787,1.45)(2850,1.6)(2900,1.7)(2990,1.78)(3030,1.72)};
\addplot[acc] coordinates {(0,0)(0,0.7)(70,0.7)(70,0.77)(175,0.77)(175,0)(683,0)(683,0.48)(871,0.48)(871,0)(3030,0)};
\addplot[rr] coordinates {(0,0)(0,0.6)(35,0.6)(35,0.72)(70,0.72)(70,0.77)(170,0.77)(185,0.3)(200,0.3)(200,0)(683,0)(683,0.3)(871,0.3)(871,0)(3030,0)};
\addplot[rb] coordinates {(0,0)(3030,0)};
\end{axis}

% ---------------- axis titles ----------------
\node[rotate=90, font=\fontsize{13}{13}\selectfont, text=black!90] at (7.5bp,358bp) {log10(Read depth + 1)};
\node[anchor=base, font=\fontsize{13}{13}\selectfont, text=black!90] at (310bp,4.5bp) {Position (bp)};

% ---------------- legend ----------------
\begin{scope}[every node/.style={anchor=base west, inner sep=0pt, font=\fontsize{13}{13}\selectfont, text=black!90}]
\draw[cAcc, line width=2.6bp] (396bp,157.7bp) -- (410bp,157.7bp);
\node at (413bp,154.2bp) {Acclimate};
\draw[cRR, line width=2.6bp] (396bp,135.3bp) -- (410bp,135.3bp);
\node at (413bp,131.8bp) {Ranger Russet};
\draw[cGla, line width=2.6bp] (396bp,100.3bp) -- (410bp,100.3bp);
\node at (413bp,96.8bp) {Glaciate};
\draw[cRB, line width=2.6bp] (396bp,78.7bp) -- (410bp,78.7bp);
\node at (413bp,75.2bp) {Russet Burbank};
\draw[cHib, line width=2.6bp] (396bp,43.7bp) -- (410bp,43.7bp);
\node at (413bp,40.2bp) {Hibernate};
\draw[cAtl, line width=2.6bp] (396bp,25.3bp) -- (410bp,25.3bp);
\node at (413bp,21.8bp) {Atlantic};
\end{scope}
\end{tikzpicture}
\end{document}
